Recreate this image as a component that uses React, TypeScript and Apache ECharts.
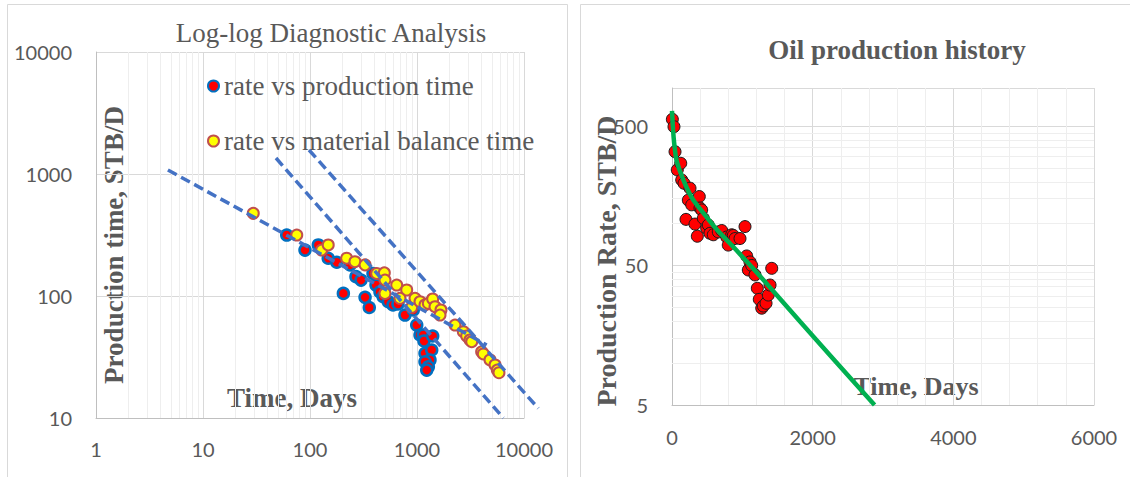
import React, { useEffect, useRef } from "react";
import * as echarts from "echarts";

// ---------- Left chart: log-log diagnostic ----------
const prodTime = [60.6, 89.8, 119.6, 148, 178, 237, 269, 300, 205, 327, 358, 388, 414, 451, 483, 540, 597, 664, 772, 923, 994, 1067, 1146, 1162, 1401, 1188, 1372, 1322, 1188, 1276, 1233];
const prodRate = [316, 238, 262, 204, 189, 180, 144, 135, 105, 97.5, 80.5, 153, 123, 108, 98.7, 89.8, 84.4, 86, 69.8, 76.8, 57.8, 47.9, 47.9, 42.8, 47, 33.9, 36.1, 29.9, 28.9, 26.3, 24.7];

const mbTime = [29.5, 75.2, 128.6, 148, 220, 263, 327, 420, 495, 502, 646, 502, 801, 693, 892, 958, 1067, 1188, 1276, 1401, 1473, 1675, 1641, 2266, 2711, 2913, 3127, 3246, 4018, 4166, 4812, 5360, 5630, 5834];
const mbRate = [476, 316, 238, 262, 204, 191, 180, 153, 155, 135, 123, 105, 112, 95.8, 80.8, 95.8, 89.8, 84.4, 87.1, 94.5, 81.7, 76.8, 69.8, 57.8, 51, 47, 43.6, 42.2, 34.9, 33.5, 29.9, 27.2, 24.7, 23.5];

// dashed straight lines (end points)
const lineATime = [4.7, 4480];
const lineARate = [1079, 39.7];
const lineBTime = [48.1, 6410];
const lineBRate = [1352, 10];
const lineCTime = [97.9, 13600];
const lineCRate = [1574, 12.0];

const logMinorMultipliers = [2, 3, 4, 5, 6, 7, 8, 9];
const leftXDecades = [1, 10, 100, 1000];

// ---------- Right chart: oil production history ----------
const histTime = [5, 28, 43, 75, 124, 138, 171, 199, 232, 256, 280, 327, 360, 388, 398, 422, 445, 493, 516, 540, 587, 658, 707, 778, 800, 849, 872, 896, 967, 1038, 1062, 1085, 1109, 1133, 1180, 1213, 1241, 1276, 1298, 1337, 1369, 1394, 1418];
const histRate = [558, 494, 327, 242, 270, 205, 194, 107, 147, 179, 136, 99, 81, 156, 129, 125, 109, 92.5, 97.6, 85, 83, 87, 89, 80, 70, 83, 82, 78, 78, 95, 58.5, 46.4, 53, 50, 42.8, 34.3, 28.6, 24.7, 25.6, 26.8, 30.7, 36.2, 47.7];

const fitTime = [0, 15, 30, 60, 110, 200, 300, 450, 640, 870, 1250, 1820, 2300, 2880];
const fitRate = [640, 470, 380, 290, 240, 185, 148, 118, 90, 68, 42, 19.8, 10.6, 5];

const rightYBase = 5; // bottom of the log rate axis
const rightYDecades = [5, 50];

const serif = '"Liberation Serif", "Times New Roman", serif';
const sans = 'Lato, "Liberation Sans", sans-serif';
const grey = "#595959";

const toRightY = (q: number) => Math.log10(q / rightYBase);

export default function App() {
  const ref = useRef<HTMLDivElement>(null);

  useEffect(() => {
    if (!ref.current) return;
    const chart = echarts.init(ref.current, undefined, { renderer: "svg" });

    const leftMinorX: number[] = [];
    leftXDecades.forEach((d) => logMinorMultipliers.forEach((k) => leftMinorX.push(k * d)));
    const rightMinorY: number[] = [];
    rightYDecades.forEach((d) => logMinorMultipliers.forEach((k) => rightMinorY.push(toRightY(k * d))));

    const axisLine = { show: true, lineStyle: { color: "#bfbfbf", width: 1 } };
    const splitLine = { show: true, lineStyle: { color: "#d9d9d9", width: 1 } };
    const plain = (v: number) => String(Math.round(v));
    const label = { color: grey, fontFamily: sans, fontSize: 20 };
    const minorMark = (data: any[]) => ({
      silent: true,
      z: 1,
      symbol: ["none", "none"],
      label: { show: false },
      emphasis: { disabled: true },
      lineStyle: { color: "#eeeeee", width: 1, type: "solid" },
      data,
    });
    const dashed = { color: "#4472C4", width: 3.5, type: [10, 5] as any };
    const nameText = (text: string, x: number, y: number, size: number, rotate: boolean) => ({
      type: "text",
      x,
      y,
      rotation: rotate ? Math.PI / 2 : 0,
      style: {
        text,
        fill: grey,
        fontFamily: serif,
        fontSize: size,
        fontWeight: "bold",
        align: "center",
        verticalAlign: "middle",
      },
    });

    const option: any = {
      animation: false,
      backgroundColor: "#ffffff",
      title: [
        {
          text: "Log-log Diagnostic Analysis",
          left: 331,
          top: 19,
          padding: 0,
          textAlign: "center",
          textStyle: { fontFamily: serif, fontSize: 27, fontWeight: "normal", color: grey },
        },
        {
          text: "Oil production history",
          left: 897,
          top: 36,
          padding: 0,
          textAlign: "center",
          textStyle: { fontFamily: serif, fontSize: 27, fontWeight: "bold", color: grey },
        },
      ],
      legend: {
        data: ["rate vs production time", "rate vs material balance time"],
        orient: "vertical",
        left: 207,
        top: 71,
        padding: 0,
        itemGap: 25,
        itemWidth: 11,
        itemHeight: 11,
        textStyle: { fontFamily: serif, fontSize: 27, color: grey, lineHeight: 30 },
      },
      grid: [
        { left: 96, top: 52, width: 428, height: 366, outerBoundsMode: "none" },
        { left: 672, top: 88, width: 422, height: 317, outerBoundsMode: "none" },
        { left: 96, top: 52, width: 535, height: 366, outerBoundsMode: "none" },
      ],
      xAxis: [
        {
          gridIndex: 0,
          type: "log",
          logBase: 10,
          min: 1,
          max: 10000,
          axisLine,
          axisTick: { show: false },
          axisLabel: { ...label, margin: 21, formatter: plain },
          splitLine,
        },
        {
          gridIndex: 1,
          type: "value",
          min: 0,
          max: 6000,
          interval: 2000,
          axisLine,
          axisTick: { show: false },
          axisLabel: { ...label, margin: 22, formatter: plain },
          splitLine,
          minorTick: { show: false, splitNumber: 5 },
          minorSplitLine: { show: true, lineStyle: { color: "#eeeeee", width: 1 } },
        },
        {
          gridIndex: 2,
          type: "log",
          logBase: 10,
          min: 1,
          max: 100000,
          show: false,
        },
      ],
      yAxis: [
        {
          gridIndex: 0,
          type: "log",
          logBase: 10,
          min: 10,
          max: 10000,
          axisLine,
          axisTick: { show: false },
          axisLabel: { ...label, margin: 24, formatter: plain },
          splitLine,
        },
        {
          gridIndex: 1,
          type: "value",
          min: 0,
          max: 2.272,
          interval: 1,
          axisLine,
          axisTick: { show: false },
          axisLabel: {
            ...label,
            margin: 24,
            showMaxLabel: false,
            formatter: (v: number) => String(Math.round(rightYBase * Math.pow(10, v))),
          },
          splitLine,
        },
        {
          gridIndex: 2,
          type: "log",
          logBase: 10,
          min: 10,
          max: 10000,
          show: false,
        },
      ],
      graphic: [
        {
          type: "rect",
          silent: true,
          shape: { x: 7.5, y: 4.5, width: 560, height: 490 },
          style: { fill: "none", stroke: "#d9d9d9", lineWidth: 1 },
        },
        {
          type: "rect",
          silent: true,
          shape: { x: 580.5, y: 4.5, width: 570, height: 490 },
          style: { fill: "none", stroke: "#d9d9d9", lineWidth: 1 },
        },
        nameText("Production time, STB/D", 114, 245, 27, true),
        nameText("Time, Days", 292, 398, 27, false),
        nameText("Production Rate, STB/D", 606, 261, 28, true),
        nameText("Time, Days", 916, 386, 26, false),
      ],
      series: [
        {
          name: "minor-left",
          type: "line",
          xAxisIndex: 0,
          yAxisIndex: 0,
          data: [],
          z: 1,
          markLine: minorMark(leftMinorX.map((v) => ({ xAxis: v }))),
        },
        {
          name: "minor-right",
          type: "line",
          xAxisIndex: 1,
          yAxisIndex: 1,
          data: [],
          z: 1,
          markLine: minorMark(rightMinorY.map((v) => ({ yAxis: v }))),
        },
        {
          name: "rate vs production time",
          type: "scatter",
          xAxisIndex: 0,
          yAxisIndex: 0,
          symbol: "circle",
          symbolSize: 11,
          data: prodTime.map((t, i) => [t, prodRate[i]]),
          itemStyle: { color: "#FF0000", borderColor: "#0070C0", borderWidth: 2.5, opacity: 1 },
          z: 3,
        },
        {
          name: "rate vs material balance time",
          type: "scatter",
          xAxisIndex: 0,
          yAxisIndex: 0,
          symbol: "circle",
          symbolSize: 11,
          data: mbTime.map((t, i) => [t, mbRate[i]]),
          itemStyle: { color: "#FFFF00", borderColor: "#C0504D", borderWidth: 2, opacity: 1 },
          z: 3,
        },
        {
          name: "line A",
          type: "line",
          xAxisIndex: 2,
          yAxisIndex: 2,
          symbol: "none",
          clip: false,
          data: lineATime.map((t, i) => [t, lineARate[i]]),
          lineStyle: dashed,
          z: 4,
        },
        {
          name: "line B",
          type: "line",
          xAxisIndex: 2,
          yAxisIndex: 2,
          symbol: "none",
          clip: false,
          data: lineBTime.map((t, i) => [t, lineBRate[i]]),
          lineStyle: dashed,
          z: 4,
        },
        {
          name: "line C",
          type: "line",
          xAxisIndex: 2,
          yAxisIndex: 2,
          symbol: "none",
          clip: false,
          data: lineCTime.map((t, i) => [t, lineCRate[i]]),
          lineStyle: dashed,
          z: 4,
        },
        {
          name: "history",
          type: "scatter",
          xAxisIndex: 1,
          yAxisIndex: 1,
          symbol: "circle",
          symbolSize: 12,
          data: histTime.map((t, i) => [t, toRightY(histRate[i])]),
          itemStyle: { color: "#FF0000", borderColor: "#1a1a1a", borderWidth: 1, opacity: 1 },
          z: 3,
        },
        {
          name: "fit",
          type: "line",
          xAxisIndex: 1,
          yAxisIndex: 1,
          symbol: "none",
          smooth: 0.2,
          data: fitTime.map((t, i) => [t, toRightY(fitRate[i])]),
          lineStyle: { color: "#00B050", width: 4.5 },
          z: 4,
        },
      ],
    };

    chart.setOption(option);
    return () => chart.dispose();
  }, []);

  return (
    <div
      ref={ref}
      style={{ position: "absolute", left: 0, top: 0, width: 1130, height: 477 }}
    />
  );
}
